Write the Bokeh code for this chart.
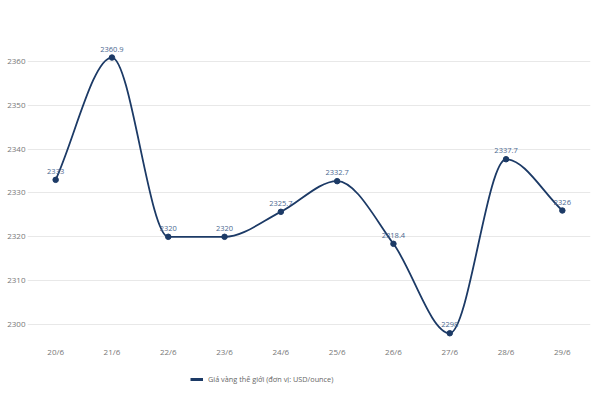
from bokeh.plotting import figure
from bokeh.models import ColumnDataSource, FixedTicker, Range1d, Legend, LegendItem
from bokeh.layouts import column
from bokeh.core.properties import value
from bokeh.embed import file_html
from bokeh.resources import INLINE
import numpy as np

dates = ["20/6", "21/6", "22/6", "23/6", "24/6", "25/6", "26/6", "27/6", "28/6", "29/6"]
prices = [2333, 2360.9, 2320, 2320, 2325.7, 2332.7, 2318.4, 2298, 2337.7, 2326]
labels = ["2333", "2360.9", "2320", "2320", "2325.7", "2332.7", "2318.4", "2298", "2337.7", "2326"]
yticks = [2300, 2310, 2320, 2330, 2340, 2350, 2360]
series_name = "Giá vàng thế giới (đơn vị: USD/ounce)"

LINE = "#1c3a66"
FONT = "Open Sans"

x = np.arange(len(prices), dtype=float)
y = np.array(prices, dtype=float)

# monotone cubic (Fritsch-Carlson) tangents for smooth rendering
h = np.diff(x)
d = np.diff(y) / h
m = np.zeros_like(y)
m[0] = d[0]
m[-1] = d[-1]
for i in range(1, len(y) - 1):
    if d[i - 1] * d[i] <= 0:
        m[i] = 0.0
    else:
        m[i] = (d[i - 1] + d[i]) / 2.0
for i in range(len(d)):
    if d[i] == 0:
        m[i] = 0.0
        m[i + 1] = 0.0
    else:
        a = m[i] / d[i]
        b = m[i + 1] / d[i]
        s = a * a + b * b
        if s > 9:
            t = 3 / np.sqrt(s)
            m[i] = t * a * d[i]
            m[i + 1] = t * b * d[i]

seg = ColumnDataSource(dict(
    x0=x[:-1], y0=y[:-1], x1=x[1:], y1=y[1:],
    cx0=x[:-1] + h / 3, cy0=y[:-1] + m[:-1] * h / 3,
    cx1=x[1:] - h / 3, cy1=y[1:] - m[1:] * h / 3,
))
pts = ColumnDataSource(dict(x=x, y=y, label=labels))

p = figure(frame_width=563, frame_height=318, output_backend="svg", toolbar_location=None,
           x_range=Range1d(-0.5, len(prices) - 0.5), y_range=Range1d(2296.8, 2369.35),
           min_border_left=27, min_border_right=1, min_border_top=20, min_border_bottom=22)
p.outline_line_color = None
p.background_fill_color = "white"

p.bezier(x0="x0", y0="y0", x1="x1", y1="y1", cx0="cx0", cy0="cy0", cx1="cx1", cy1="cy1",
         source=seg, line_color=LINE, line_width=1.8)
p.scatter("x", "y", source=pts, size=5.5, fill_color=LINE, line_color=LINE)
p.text("x", "y", text="label", source=pts, x_offset=0, y_offset=-6,
       text_align="center", text_baseline="bottom", text_font=value(FONT),
       text_font_size="7.5px", text_color="#4a6890")

p.xaxis.ticker = FixedTicker(ticks=list(range(len(dates))))
p.xaxis.major_label_overrides = {i: d_ for i, d_ in enumerate(dates)}
p.yaxis.ticker = FixedTicker(ticks=yticks)
for ax in (p.xaxis, p.yaxis):
    ax.axis_line_color = None
    ax.major_tick_line_color = None
    ax.minor_tick_line_color = None
    ax.major_tick_out = 0
    ax.major_tick_in = 0
    ax.minor_tick_out = 0
    ax.minor_tick_in = 0
    ax.major_label_text_font = FONT
    ax.major_label_text_font_size = "8px"
    ax.major_label_text_color = "#777777"
p.xaxis.major_label_standoff = 7
p.yaxis.major_label_standoff = 2
p.xgrid.grid_line_color = None
p.ygrid.grid_line_color = "#e8e8e8"
p.ygrid.grid_line_width = 1

# legend strip below the chart (swatch renderer lies outside its view range)
lg = figure(width=591, height=38, output_backend="svg", toolbar_location=None,
            x_range=Range1d(0, 1), y_range=Range1d(0, 1),
            min_border_left=0, min_border_right=0, min_border_top=0, min_border_bottom=0)
lg.axis.visible = False
lg.grid.visible = False
lg.outline_line_color = None
swatch = lg.line(x=[5, 6], y=[5, 6], line_color=LINE, line_width=3)
legend = Legend(items=[LegendItem(label=series_name, renderers=[swatch])],
                location=(163, 14), orientation="horizontal",
                label_text_font=FONT, label_text_font_size="7.3px", label_text_color="#666666",
                glyph_width=13, glyph_height=8, label_standoff=5, padding=4, margin=0,
                border_line_color=None, background_fill_alpha=0)
lg.add_layout(legend, "center")

layout = column(p, lg, spacing=0)
open("out.html", "w").write(file_html(layout, INLINE))
